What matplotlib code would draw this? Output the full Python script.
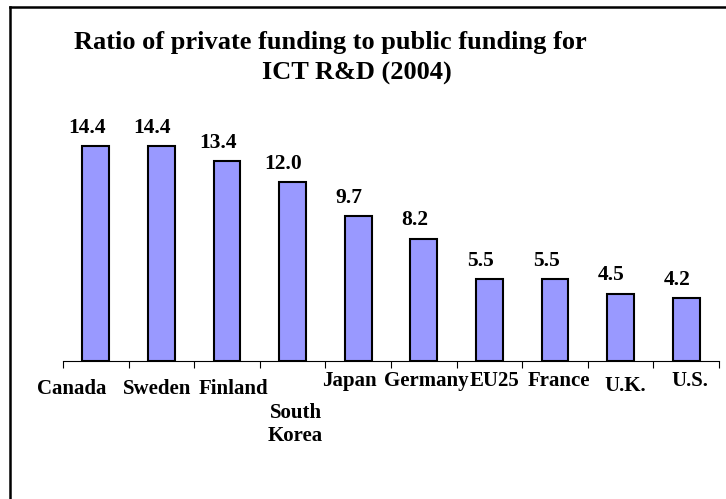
import numpy as np
import matplotlib
matplotlib.use("Agg")
import matplotlib.pyplot as plt
from matplotlib.lines import Line2D

# data
countries = ["Canada", "Sweden", "Finland", "South\nKorea", "Japan",
             "Germany", "EU25", "France", "U.K.", "U.S."]
ratios = [14.4, 14.4, 13.4, 12.0, 9.7, 8.2, 5.5, 5.5, 4.5, 4.2]
title_lines = ["Ratio of private funding to public funding for", "ICT R&D (2004)"]

# label placement (pixel offsets from category centre / baseline), Excel-ish staggering
label_dx = [-24, -4, 6, 3, -9, 3, 5.5, 4, 5, 4]
label_dy = [-33, -33, -33, -80, -25, -25, -25, -25, -30, -25]

W, H = 726, 499
plt.rcParams["font.family"] = ["Liberation Serif", "DejaVu Serif"]
plt.rcParams["font.weight"] = "bold"

fig = plt.figure(figsize=(W / 100, H / 100), dpi=100)
ax = fig.add_axes([63 / W, (H - 361) / H, 656 / W, 16 * 14.9 / H])

x = np.arange(len(ratios))
ax.bar(x, ratios, width=0.41, color="#9999FF", edgecolor="black", linewidth=1.5)

ax.set_xlim(-0.5, len(ratios) - 0.5)
ax.set_ylim(0, 16)
ax.set_xticks(np.arange(-0.5, len(ratios), 1))
ax.set_xticklabels([])
ax.tick_params(axis="x", direction="out", length=5, width=0.8, color="black")
ax.set_yticks([])
for s in ["left", "top", "right"]:
    ax.spines[s].set_visible(False)
ax.spines["bottom"].set_linewidth(0.8)

# value labels above bars
for i, v in enumerate(ratios):
    ax.annotate(f"{v:.1f}", xy=(i, v), xytext=(-9, 13.5), textcoords="offset pixels",
                ha="center", va="baseline", fontsize=15.5, fontweight="bold")

# category labels
for i, name in enumerate(countries):
    ax.annotate(name, xy=(i, 0), xytext=(label_dx[i], label_dy[i]), textcoords="offset pixels",
                ha="center", va="baseline", fontsize=15, fontweight="bold",
                multialignment="center", annotation_clip=False)

# title, two lines
fig.text(330.5 / W, 1 - 49.3 / H, title_lines[0], ha="center", va="baseline",
         fontsize=19, fontweight="bold")
fig.text(357.3 / W, 1 - 80 / H, title_lines[1], ha="center", va="baseline",
         fontsize=19, fontweight="bold")

# chart-area border (only left and top show in the crop)
fig.add_artist(Line2D([9.5 / W, 9.5 / W], [0, 1 - 7 / H], color="black", linewidth=1.8))
fig.add_artist(Line2D([9.5 / W, 1], [1 - 7 / H, 1 - 7 / H], color="black", linewidth=1.8))

fig.savefig("out.png", dpi=100)
